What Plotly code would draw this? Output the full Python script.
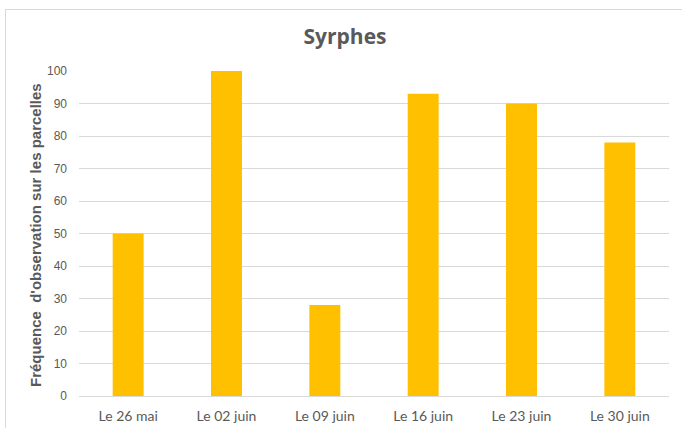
import plotly.graph_objects as go

categories = ["Le 26 mai", "Le 02 juin", "Le 09 juin", "Le 16 juin", "Le 23 juin", "Le 30 juin"]
values = [50, 100, 28, 93, 90, 78]
y_ticks = [0, 10, 20, 30, 40, 50, 60, 70, 80, 90, 100]

L, R, T, B = 79, 13, 71, 32
W, H = 682, 428
pw, ph = W - L - R, H - T - B

def px_x(px):
    return (px - L) / pw

def px_y(py):
    return (H - B - py) / ph

fig = go.Figure(go.Bar(
    x=categories, y=values,
    marker=dict(color="#FFC000", line=dict(width=0)),
    width=0.315,
))

fig.update_layout(
    width=W, height=H,
    margin=dict(l=L, r=R, t=T, b=B, autoexpand=False),
    paper_bgcolor="white", plot_bgcolor="white",
    showlegend=False,
    title=dict(text="<b>Syrphes</b>", x=345 / W, xanchor="center", xref="container",
               y=1 - 37 / H, yanchor="middle", yref="container",
               font=dict(family="Open Sans", size=21, color="#595959")),
    xaxis=dict(showgrid=False, showline=True, linecolor="#d9d9d9", linewidth=1,
               ticks="", tickfont=dict(family="Lato", size=14, color="#595959"),
               ticklabelstandoff=7, automargin=False),
    yaxis=dict(range=[0, 100], tickvals=y_ticks, showgrid=True, gridcolor="#d9d9d9",
               gridwidth=1, zeroline=False, showline=False, ticks="",
               tickfont=dict(family="Liberation Sans, Arial", size=12, color="#595959"),
               ticklabelstandoff=11, automargin=False),
    annotations=[dict(text="<b>Fréquence\u00a0\u00a0d'observation sur les parcelles</b>",
                      textangle=-90, xref="paper", yref="paper",
                      x=px_x(35), y=px_y(235), xanchor="center", yanchor="middle",
                      showarrow=False,
                      font=dict(family="Liberation Sans, Arial", size=15, color="#595959"))],
    shapes=[
        dict(type="line", xref="paper", yref="paper", x0=px_x(5.5), x1=px_x(690),
             y0=px_y(9.5), y1=px_y(9.5), line=dict(color="#d9d9d9", width=1)),
        dict(type="line", xref="paper", yref="paper", x0=px_x(5.5), x1=px_x(5.5),
             y0=px_y(9.5), y1=px_y(440), line=dict(color="#d9d9d9", width=1)),
    ],
)

fig.write_html("out.html", config={"displayModeBar": False},
               post_script="document.body.style.margin='0';document.body.style.overflow='hidden';")
